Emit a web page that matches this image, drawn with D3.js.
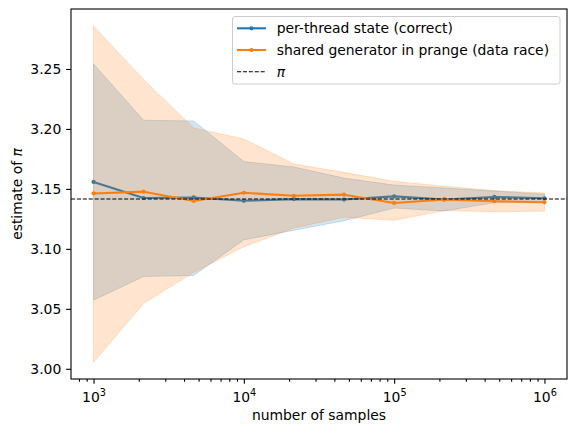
<!DOCTYPE html>
<html>
<head>
<meta charset="utf-8">
<script src="https://cdn.jsdelivr.net/npm/d3@7"></script>
<style>
  html, body { margin: 0; padding: 0; background: #fff; }
  svg { display: block; }
  text { font-family: "DejaVu Sans", sans-serif; fill: #000; }
</style>
</head>
<body>
<svg id="chart" width="576" height="435"></svg>
<script>
// ---- data ----
const samples = [1000, 2154, 4642, 10000, 21544, 46416, 100000, 215443, 464159, 1000000];

const correctMean = [3.1558, 3.1424, 3.1429, 3.1401, 3.1415, 3.1411, 3.1438, 3.1412, 3.1433, 3.1422];
const correctLow  = [3.0572, 3.0769, 3.0778, 3.1075, 3.1155, 3.1234, 3.1340, 3.1316, 3.1384, 3.1388];
const correctHigh = [3.2542, 3.2072, 3.2067, 3.1728, 3.1683, 3.1590, 3.1532, 3.1508, 3.1482, 3.1456];

const raceMean = [3.1462, 3.1477, 3.1399, 3.1468, 3.1443, 3.1452, 3.1383, 3.1411, 3.1397, 3.1389];
const raceLow  = [3.0055, 3.0544, 3.0805, 3.1017, 3.1175, 3.1264, 3.1238, 3.1319, 3.1310, 3.1314];
const raceHigh = [3.2858, 3.2411, 3.2008, 3.1917, 3.1708, 3.1638, 3.1563, 3.1522, 3.1486, 3.1466];

const yTicks = [3.00, 3.05, 3.10, 3.15, 3.20, 3.25];
const xTicks = [1e3, 1e4, 1e5, 1e6];
const PI = Math.PI;

const seriesNames = ["per-thread state (correct)", "shared generator in prange (data race)"];
const colors = ["#1f77b4", "#ff7f0e"];

// ---- layout ----
const svg = d3.select("#chart");
const L = 71, R = 567, T = 9, B = 379;
const FS = "13.9px";

const x = d3.scaleLog().domain([Math.pow(10, 2.85), Math.pow(10, 6.15)]).range([L, R]);
const y = d3.scaleLinear().domain([2.9915, 3.3000]).range([B, T]);

const series = [
  { name: seriesNames[0], color: colors[0], mean: correctMean, lo: correctLow, hi: correctHigh },
  { name: seriesNames[1], color: colors[1], mean: raceMean, lo: raceLow, hi: raceHigh }
];

const area = (s) => d3.area()
  .x((d, i) => x(samples[i]))
  .y0((d, i) => y(s.lo[i]))
  .y1((d, i) => y(s.hi[i]));

const line = (s) => d3.line()
  .x((d, i) => x(samples[i]))
  .y((d, i) => y(s.mean[i]));

const plot = svg.append("g");

series.forEach(s => {
  plot.append("path")
    .datum(s.mean)
    .attr("d", line(s))
    .attr("fill", "none")
    .attr("stroke", s.color)
    .attr("stroke-width", 2.08)
    .attr("stroke-linejoin", "round")
    .attr("stroke-linecap", "butt");
  plot.selectAll(null)
    .data(s.mean)
    .enter().append("circle")
    .attr("cx", (d, i) => x(samples[i]))
    .attr("cy", d => y(d))
    .attr("r", 2.1)
    .attr("fill", s.color);
  plot.append("path")
    .datum(s.mean)
    .attr("d", area(s))
    .attr("fill", s.color)
    .attr("fill-opacity", 0.2)
    .attr("stroke", s.color)
    .attr("stroke-opacity", 0.2)
    .attr("stroke-width", 1);
});

// pi reference line (axhline)
plot.append("line")
  .attr("x1", L).attr("x2", R)
  .attr("y1", y(PI)).attr("y2", y(PI))
  .attr("stroke", "#000")
  .attr("stroke-width", 1.1)
  .attr("stroke-dasharray", "4.1,1.8");

// ---- axes ----
const xAxis = svg.append("g")
  .attr("transform", `translate(0,${B})`)
  .call(d3.axisBottom(x).tickValues(xTicks).tickFormat("").tickSize(4.86).tickSizeOuter(0));

const minor = [];
for (let e = 2; e <= 5; e++) for (let m = 2; m <= 9; m++) {
  const v = m * Math.pow(10, e);
  if (v >= x.domain()[0] && v <= x.domain()[1]) minor.push(v);
}
const xMinor = svg.append("g")
  .attr("transform", `translate(0,${B})`)
  .call(d3.axisBottom(x).tickValues(minor).tickFormat("").tickSize(2.8).tickSizeOuter(0));
xMinor.select(".domain").remove();

xAxis.selectAll(".tick").each(function(d) {
  const t = d3.select(this).append("text")
    .attr("y", 22.5)
    .attr("text-anchor", "middle")
    .style("font-size", FS);
  t.append("tspan").text("10");
  t.append("tspan").attr("dy", -5.5).style("font-size", "9.7px").text(String(Math.round(Math.log10(d))));
});

const yAxis = svg.append("g")
  .attr("transform", `translate(${L},0)`)
  .call(d3.axisLeft(y).tickValues(yTicks).tickFormat(d3.format(".2f")).tickSize(4.86).tickPadding(4.86).tickSizeOuter(0));
yAxis.selectAll(".tick text").style("font-size", FS).attr("font-family", "DejaVu Sans");

[xAxis, xMinor, yAxis].forEach(g => {
  g.selectAll(".tick line").attr("stroke", "#000").attr("stroke-width", 1.1);
});
xAxis.select(".domain").remove();
yAxis.select(".domain").remove();

// frame
svg.append("rect")
  .attr("x", L).attr("y", T).attr("width", R - L).attr("height", B - T)
  .attr("fill", "none").attr("stroke", "#000").attr("stroke-width", 1.1);

// labels
svg.append("text")
  .attr("x", (L + R) / 2).attr("y", 420)
  .attr("text-anchor", "middle")
  .style("font-size", FS)
  .text("number of samples");

const yl = svg.append("text")
  .attr("transform", `translate(22,${(T + B) / 2}) rotate(-90)`)
  .attr("text-anchor", "middle")
  .style("font-size", FS);
yl.append("tspan").text("estimate of ");
yl.append("tspan").style("font-style", "italic").text("π");

// ---- legend ----
const lg = svg.append("g");
lg.append("rect")
  .attr("x", 232.5).attr("y", 16.5).attr("width", 327.5).attr("height", 67.5)
  .attr("rx", 2.5)
  .attr("fill", "#fff").attr("fill-opacity", 0.8)
  .attr("stroke", "#cccccc").attr("stroke-width", 1);

const rows = [28.3, 50.0, 71.7];
series.forEach((s, i) => {
  lg.append("line")
    .attr("x1", 237).attr("x2", 266).attr("y1", rows[i]).attr("y2", rows[i])
    .attr("stroke", s.color).attr("stroke-width", 2.08);
  lg.append("circle").attr("cx", 251.5).attr("cy", rows[i]).attr("r", 2.1).attr("fill", s.color);
  lg.append("text").attr("x", 276.7).attr("y", rows[i] + 5)
    .style("font-size", FS).text(s.name);
});
lg.append("line")
  .attr("x1", 237).attr("x2", 266).attr("y1", rows[2]).attr("y2", rows[2])
  .attr("stroke", "#000").attr("stroke-width", 1.1).attr("stroke-dasharray", "4.1,1.8");
lg.append("text").attr("x", 276.7).attr("y", rows[2] + 5)
  .style("font-size", FS).style("font-style", "italic").text("π");
</script>
</body>
</html>
